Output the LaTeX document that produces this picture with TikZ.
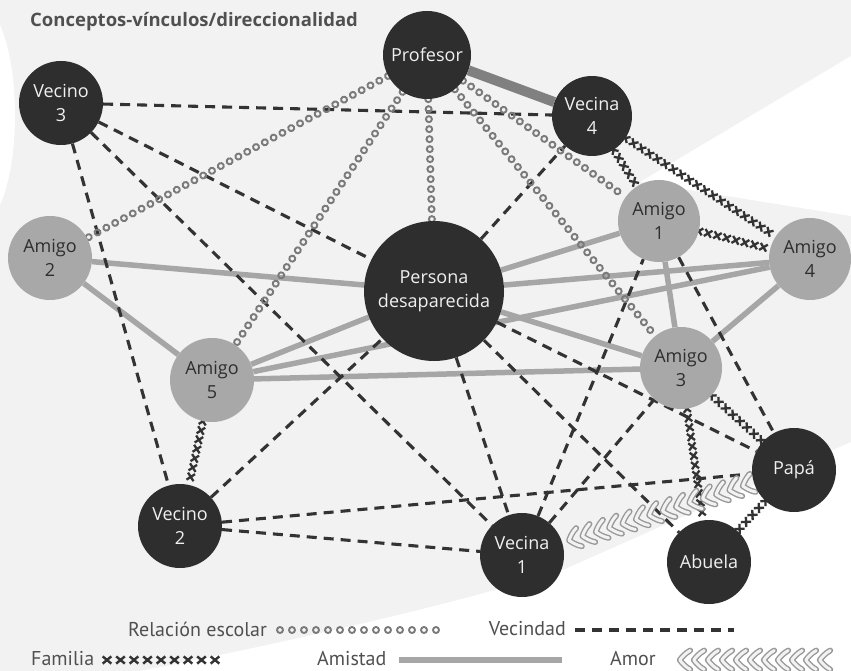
\documentclass[tikz,border=0pt]{standalone}
\usepackage{fontspec}
\setmainfont{Open Sans}
\newfontfamily\legfont{PT Sans}
\usetikzlibrary{decorations.markings}
\pgfdeclarelayer{bgfill}
\pgfdeclarelayer{edges}
\pgfsetlayers{bgfill,edges,main}
\definecolor{bggray}{HTML}{F2F2F2}
\definecolor{darknode}{HTML}{2E2E2E}
\definecolor{lightnode}{HTML}{A8A8A8}
\definecolor{amist}{HTML}{A6A6A6}
\definecolor{amistdark}{HTML}{808080}
\definecolor{dotc}{HTML}{7A7A7A}
\definecolor{dashc}{HTML}{333333}
\definecolor{txtc}{HTML}{505050}
\definecolor{amorc}{HTML}{999999}
\tikzset{
  dnode/.style={circle, fill=darknode, text=white!94!black, minimum size=#1, inner sep=0pt, align=center, font=\fontsize{18}{24}\selectfont},
  gnode/.style={circle, fill=lightnode, text=darknode, minimum size=#1, inner sep=0pt, align=center, font=\fontsize{18}{24}\selectfont},
  legtext/.style={text=txtc, font=\legfont\fontsize{20}{22}\selectfont, inner sep=0pt},
  amistad/.style={draw=amist, line width=5.5pt},
  profbar/.style={draw=amistdark, line width=10pt},
  vecindad/.style={draw=dashc, line width=3.1pt, dash pattern=on 10pt off 7pt},
  escolar/.style={decorate, decoration={markings, mark=between positions 0 and 1 step #1 with {\draw[dotc, line width=1.9pt] (0,0) circle (3pt);}}},
  escolar/.default=10pt,
  familia/.style={decorate, decoration={markings, mark=between positions 0 and 1 step 9.5pt with {\draw[dashc, line width=2.3pt] (-3.6pt,-3.6pt) -- (3.6pt,3.6pt) (-3.6pt,3.6pt) -- (3.6pt,-3.6pt);}}},
  legfamilia/.style={decorate, decoration={markings, mark=between positions 0 and 1 step 13.5pt with {\draw[dashc, line width=2.4pt] (-4.3pt,-3.6pt) -- (4.3pt,3.6pt) (-4.3pt,3.6pt) -- (4.3pt,-3.6pt);}}},
  amor/.style={decorate, decoration={markings, mark=between positions 0.03 and 1 step 14pt with {\draw[draw=amorc, double=bggray, double distance=3pt, line width=1.4pt, line join=round, line cap=round] (-5pt,9.5pt) .. controls (0pt,7pt) and (4pt,2pt) .. (5.5pt,0pt) .. controls (4pt,-2pt) and (0pt,-7pt) .. (-5pt,-9.5pt);}}}
}
\begin{document}
\begin{tikzpicture}[x=1pt, y=-1pt]
\useasboundingbox (0,0) rectangle (851,671);
\begin{pgfonlayer}{bgfill}
  \fill[bggray] (0,0) rectangle (851,671);
  \fill[white] (640,182) -- (851,56) -- (851,216) -- cycle;
  \fill[white] (851,442) -- (563,570) .. controls (470,600) and (300,640) .. (140,671) -- (851,671) -- cycle;
  \fill[white] (0,25) .. controls (20,70) and (20,160) .. (0,205) -- cycle;
\end{pgfonlayer}

\node[anchor=west, text=txtc, font=\fontsize{18.5}{21}\selectfont\bfseries, inner sep=0pt] (title) at (30,22) {Conceptos-vínculos/direccionalidad};

\node[dnode=88pt] (P)  at (427,55)  {Profesor};
\node[dnode=84pt] (V3) at (61,103)  {Vecino\\3};
\node[dnode=80pt] (V4) at (592,116) {Vecina\\4};
\node[gnode=82pt] (A1) at (659,221) {Amigo\\1};
\node[gnode=82pt] (A4) at (810,259) {Amigo\\4};
\node[gnode=84pt] (A2) at (50,258)  {Amigo\\2};
\node[dnode=140pt] (PD) at (434,291) {Persona\\desaparecida};
\node[gnode=84pt] (A5) at (212,380) {Amigo\\5};
\node[gnode=82pt] (A3) at (681,368) {Amigo\\3};
\node[dnode=84pt] (Pa) at (794,470) {Papá};
\node[dnode=84pt] (V2) at (180,526) {Vecino\\2};
\node[dnode=84pt] (V1) at (522,555) {Vecina\\1};
\node[dnode=84pt] (Ab) at (709,562) {Abuela};

% legend
\node[legtext, anchor=west] (lesc) at (128,629) {Relación escolar};
\coordinate (esc1) at (280,630);
\coordinate (esc2) at (436,630);
\node[legtext, anchor=east] (lvec) at (566,629) {Vecindad};
\coordinate (vec1) at (575,630);
\coordinate (vec2) at (734,630);
\node[legtext, anchor=west] (lfam) at (31,659) {Familia};
\coordinate (fam1) at (107,660);
\coordinate (fam2) at (226,660);
\node[legtext, anchor=west] (lami) at (317,659) {Amistad};
\coordinate (ami1) at (399,660);
\coordinate (ami2) at (562,660);
\node[legtext, anchor=west] (lamo) at (610,659) {Amor};
\coordinate (amo1) at (830,660);
\coordinate (amo2) at (672,660);

\begin{pgfonlayer}{edges}
  % amistad
  \draw[profbar] (P) -- (V4);
  \draw[amistad] (A2) -- (PD);
  \draw[amistad] (A2) -- (A5);
  \draw[amistad] (A5) -- (PD);
  \draw[amistad] (A5) -- (A4);
  \draw[amistad] (A5) -- (A3);
  \draw[amistad] (PD) -- (A1);
  \draw[amistad] (PD) -- (A4);
  \draw[amistad] (PD) -- (A3);
  \draw[amistad] (A1) -- (A3);
  \draw[amistad] (A4) -- (A3);
  % vecindad
  \draw[vecindad] (V3) -- (V4);
  \draw[vecindad] (V3) -- (PD);
  \draw[vecindad] (V3) -- (V1);
  \draw[vecindad] (V3) -- (V2);
  \draw[vecindad] (V2) -- (PD);
  \draw[vecindad] (V2) -- (Pa);
  \draw[vecindad] (V2) -- (V1);
  \draw[vecindad] (PD) -- (V4);
  \draw[vecindad] (PD) -- (V1);
  \draw[vecindad] (PD) -- (Ab);
  \draw[vecindad] (PD) -- (Pa);
  \draw[vecindad] (V1) -- (A1);
  \draw[vecindad] (V1) -- (A3);
  \draw[vecindad] (A1) -- (Pa);
  % relacion escolar
  \path[escolar] (P) -- (A2);
  \path[escolar] (P) -- (A5);
  \path[escolar] (P) -- (PD);
  \path[escolar] (P) -- (A1);
  \path[escolar] (P) -- (A3);
  % familia
  \path[familia] (V4) -- (A4);
  \path[familia] (V4) -- (A1);
  \path[familia] (A1) -- (A4);
  \path[familia] (A5) -- (V2);
  \path[familia] (A3) -- (Pa);
  \path[familia] (A3) -- (Ab);
  \path[familia] (Pa) -- (Ab);
  % amor
  \path[amor] (Pa) -- (V1);
  % legend samples
  \path[escolar=12pt] (esc1) -- (esc2);
  \draw[vecindad] (vec1) -- (vec2);
  \path[legfamilia] (fam1) -- (fam2);
  \draw[amistad] (ami1) -- (ami2);
  \path[amor] (amo1) -- (amo2);
\end{pgfonlayer}
\end{tikzpicture}
\end{document}
